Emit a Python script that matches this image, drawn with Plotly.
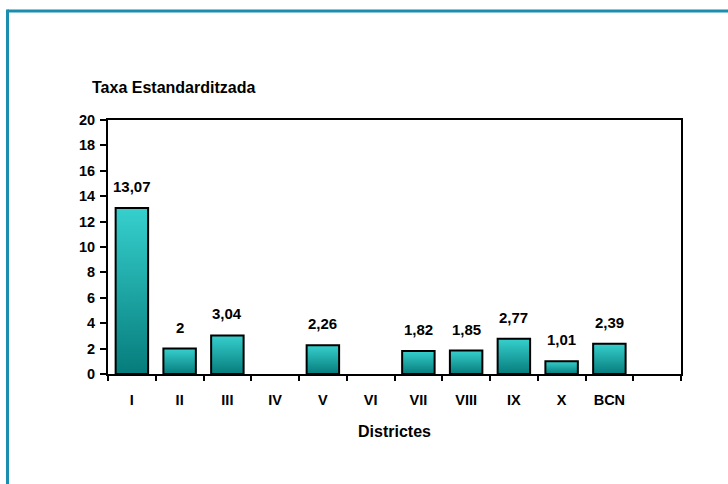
import plotly.graph_objects as go

# District standardized rates
districts = ["I", "II", "III", "IV", "V", "VI", "VII", "VIII", "IX", "X", "BCN"]
rates = [13.07, 2.00, 3.04, None, 2.26, None, 1.82, 1.85, 2.77, 1.01, 2.39]
y_ticks = list(range(0, 21, 2))

W, H = 728, 484
ML, MR, MT, MB = 108, 47, 120, 110
PW, PH = W - ML - MR, H - MT - MB

FONT = "Liberation Sans, Arial, sans-serif"
DARK = "#067C7C"
LIGHT = "#36D0CD"
HALF = 0.34
TICK_SIZE = 14.5
TITLE_SIZE = 16
LABEL_SIZE = 15


def fmt(v):
    s = f"{v:.2f}".rstrip("0").rstrip(".")
    return s.replace(".", ",")


fig = go.Figure()
annotations = []
for i, (name, v) in enumerate(zip(districts, rates)):
    if v is None:
        continue
    fig.add_trace(go.Scatter(
        x=[i - HALF, i - HALF, i + HALF, i + HALF, i - HALF],
        y=[0, v, v, 0, 0],
        mode="lines",
        fill="toself",
        fillgradient=dict(type="vertical",
                          colorscale=[[0, DARK], [1, LIGHT]]),
        line=dict(color="black", width=2),
        hoverinfo="skip",
        showlegend=False,
    ))
    annotations.append(dict(
        x=i, y=v, xref="x", yref="y", text=fmt(v), showarrow=False,
        yanchor="bottom", yshift=11,
        font=dict(family=FONT, size=LABEL_SIZE, color="black", weight="bold"),
    ))

# y-axis title above the axis
annotations.append(dict(
    x=(90 - ML) / PW, y=(H - MB - 87) / PH, xref="paper", yref="paper",
    text="Taxa Estandarditzada", showarrow=False,
    xanchor="left", yanchor="middle",
    font=dict(family=FONT, size=TITLE_SIZE, color="black", weight="bold"),
))

# teal frame along top and left edges
FRAME = "#1B8DAE"
shapes = [
    dict(type="line", xref="paper", yref="paper",
         x0=(7.5 - ML) / PW, x1=(W + 5 - ML) / PW,
         y0=(H - MB - 11) / PH, y1=(H - MB - 11) / PH,
         line=dict(color=FRAME, width=3)),
    dict(type="line", xref="paper", yref="paper",
         x0=(7.5 - ML) / PW, x1=(7.5 - ML) / PW,
         y0=(H - MB - 9.5) / PH, y1=(H - MB - H - 5) / PH,
         line=dict(color=FRAME, width=3)),
]

fig.update_layout(
    width=W, height=H,
    margin=dict(l=ML, r=MR, t=MT, b=MB, pad=0),
    paper_bgcolor="white", plot_bgcolor="white",
    font=dict(family=FONT, size=TICK_SIZE, color="black"),
    annotations=annotations,
    shapes=shapes,
    xaxis=dict(
        range=[-0.5, 11.5], tickmode="array",
        tickvals=list(range(len(districts))), ticktext=districts,
        ticks="", showgrid=False, zeroline=False,
        showline=True, linecolor="black", linewidth=2, mirror=True,
        tickfont=dict(family=FONT, size=TICK_SIZE, color="black", weight="bold"),
        ticklabelstandoff=12,
        minor=dict(tick0=-0.5, dtick=1, ticks="outside", ticklen=5,
                   tickwidth=2, tickcolor="black", showgrid=False),
        title=dict(text="Districtes", standoff=18,
                   font=dict(family=FONT, size=TITLE_SIZE, color="black", weight="bold")),
    ),
    yaxis=dict(
        range=[0, 20], tickmode="array", tickvals=y_ticks,
        ticks="outside", ticklen=6, tickwidth=2, tickcolor="black",
        showgrid=False, zeroline=False,
        showline=True, linecolor="black", linewidth=2, mirror=True,
        tickfont=dict(family=FONT, size=TICK_SIZE, color="black", weight="bold"),
        ticklabelstandoff=2,
    ),
)

fig.write_html("out.html")
